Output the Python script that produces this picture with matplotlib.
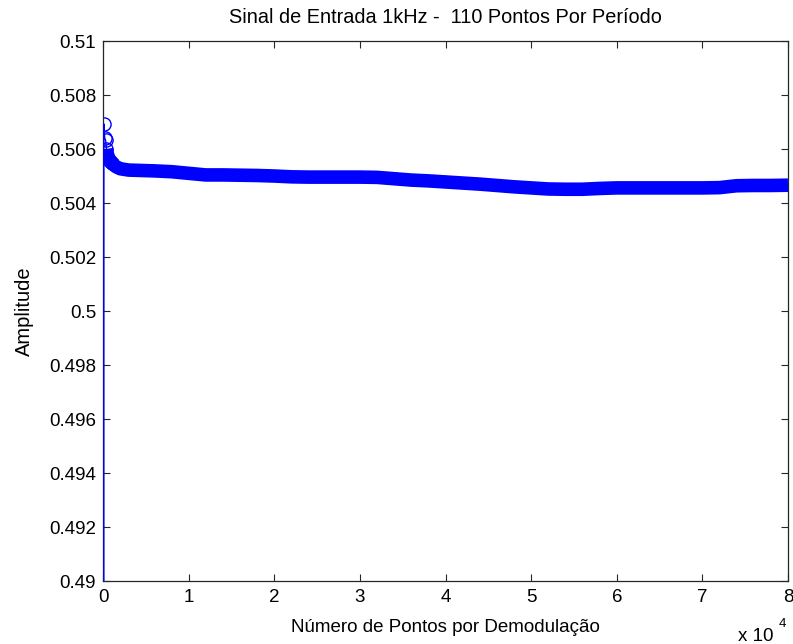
import numpy as np
import matplotlib.pyplot as plt
from matplotlib.ticker import FuncFormatter

plt.rcParams['font.family'] = ['Liberation Sans', 'DejaVu Sans']

# Number of points per demodulation vs. demodulated amplitude
n_pontos = [0, 100, 200, 300, 400, 600, 800, 1000, 1500, 2000, 3000, 4000,
            5000, 6000, 8000, 10000, 12000, 14000, 16000, 18000, 20000,
            22000, 24000, 26000, 28000, 30000, 32000, 34000, 36000, 38000,
            40000, 42000, 44000, 46000, 48000, 50000, 52000, 54000, 56000,
            58000, 60000, 62000, 64000, 66000, 68000, 70000, 72000, 74000,
            76000, 78000, 80000]
amplitude = [0.0, 0.50693, 0.50640, 0.50633, 0.50600, 0.50567, 0.50555,
             0.50548, 0.50535, 0.50527, 0.50522, 0.50521, 0.50520, 0.50519,
             0.50516, 0.50510, 0.50504, 0.50504, 0.50503, 0.50502, 0.50500,
             0.50497, 0.50496, 0.50496, 0.50496, 0.50496, 0.50495, 0.50490,
             0.50485, 0.50482, 0.50478, 0.50474, 0.50470, 0.50465, 0.50460,
             0.50456, 0.50452, 0.50451, 0.50451, 0.50454, 0.50456, 0.50456,
             0.50456, 0.50456, 0.50456, 0.50456, 0.50457, 0.50464, 0.50465,
             0.50465, 0.50466]

x = np.array(n_pontos)
y = np.array(amplitude)

fig = plt.figure(figsize=(7.93, 6.44), dpi=100)
ax = fig.add_axes([0.1299, 0.0978, 0.8638, 0.8385])

# thin line through every point (gives the vertical rise at x=0)
ax.plot(x, y, '-', color='#0000ff', lw=1.0, zorder=3)
# the dense circle markers merge into a solid band
ax.plot(x[4:], y[4:], '-', color='#0000ff', lw=9.8, solid_capstyle='butt', zorder=3)
ax.plot(x[1:8], y[1:8], 'o', color='#0000ff', mfc='none', ms=9.5, mew=1.0, zorder=4)

ax.set_xlim(0, 80000)
ax.set_ylim(0.49, 0.51)
ax.set_xticks(np.arange(0, 80001, 10000))
ax.xaxis.set_major_formatter(FuncFormatter(lambda v, p: '%g' % (v / 1e4)))
ax.set_yticks(np.arange(0.49, 0.51001, 0.002))
ax.yaxis.set_major_formatter(FuncFormatter(lambda v, p: '%g' % round(v, 3)))

ax.tick_params(direction='in', length=5, width=0.8, color='#262626',
               top=True, right=True, labelsize=13.5, labelcolor='black')
ax.tick_params(axis='x', pad=6)
ax.tick_params(axis='y', pad=5)
for s in ax.spines.values():
    s.set_color('#262626')
    s.set_linewidth(0.9)

ax.set_title('Sinal de Entrada 1kHz -  110 Pontos Por Período', fontsize=14.3, pad=13)
ax.set_xlabel('Número de Pontos por Demodulação', fontsize=13.5, labelpad=9)
ax.set_ylabel('Amplitude', fontsize=14.5, labelpad=11)

fig.text(0.931, -0.002, 'x 10', fontsize=13.5, ha='left', va='bottom')
fig.text(0.982, 0.022, '4', fontsize=9.5, ha='left', va='bottom')

fig.savefig('out.png', dpi=100)
